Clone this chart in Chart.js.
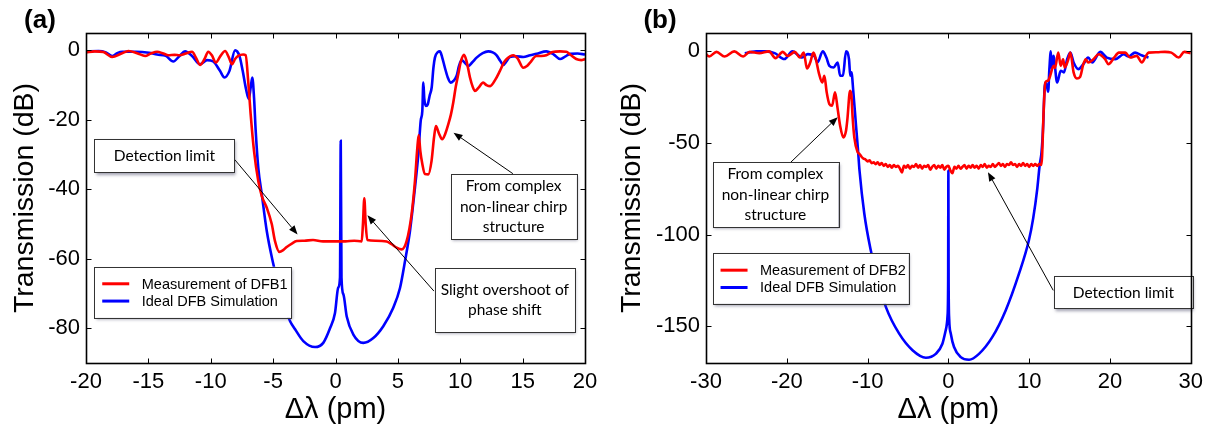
<!DOCTYPE html>
<html>
<head>
<meta charset="utf-8">
<script src="https://cdn.jsdelivr.net/npm/chart.js@4.4.1/dist/chart.umd.min.js"></script>
<style>
  html, body { margin: 0; padding: 0; background: #fff; }
  body { width: 1209px; height: 427px; position: relative; overflow: hidden; }
  .panel { position: absolute; top: 0; height: 427px; }
  #panelA { left: 0; width: 604px; }
  #panelB { left: 604px; width: 605px; }
</style>
</head>
<body>
<div class="panel" id="panelA"><canvas id="chartA" width="604" height="427"></canvas></div>
<div class="panel" id="panelB"><canvas id="chartB" width="605" height="427"></canvas></div>
<script>
'use strict';

// ---- panel (a): DFB1 ----
const measA_x = [-20, -19.3, -18.6, -17.9, -17.2, -16.6, -15.9, -15.26, -14.8, -14.3, -13.8, -13.4, -12.9, -12.5, -12.0,
  -11.5, -11.2, -10.86, -10.5, -10.2, -9.9, -9.6, -9.2, -8.85, -8.55, -8.3, -8.05, -7.8, -7.4, -7.2, -7.0, -6.8, -6.53,
  -6.19, -5.9, -5.51, -5.11, -4.85, -4.5, -4.2, -3.91, -3.5, -3.11, -2.5, -1.8, -1.0, 0, 0.8, 1.5, 2.1, 2.2, 2.31, 2.42,
  2.55, 3.2, 4.1, 4.5, 4.9, 5.3, 5.7, 6.1, 6.37, 6.55, 6.67, 6.8, 6.95, 7.17, 7.44, 7.7, 7.9, 8.05, 8.3, 8.55, 8.8, 9.04,
  9.25, 9.44, 9.64, 9.84, 10.05, 10.3, 10.5, 10.78, 11.0, 11.18, 11.45, 11.84, 12.1, 12.4, 12.8, 13.18, 13.5, 13.72,
  14.25, 14.6, 15.05, 15.35, 15.6, 16.1, 16.5, 16.9, 17.4, 18.0, 18.5, 18.8, 19.3, 19.7, 20];
const measA_y = [-0.6, -0.3, -0.5, -1.9, -1.0, -0.2, -0.8, -1.6, -0.9, -0.4, -0.9, -1.4, -1.3, -1.4, -0.9,
  -0.4, -2.0, -4.2, -2.5, -0.4, -1.5, -3.5, -1.5, -0.2, -2.0, -4.0, -2.5, -1.6, -1.2, -1.4, -8.8, -18.4, -29,
  -37.6, -42, -45.3, -50, -54.9, -58, -57.5, -56.6, -55.6, -54.9, -54.8, -54.6, -55, -55, -55, -54.8, -55, -50, -42.6, -50,
  -54.6, -54.8, -55, -55.8, -56.8, -57.3, -54.9, -47.2, -37.6, -28.5, -24.4, -29, -32.5, -35.6, -35.7, -31.8, -25, -21.8, -24, -25.6, -24, -21.3,
  -18.5, -15, -10.5, -6.9, -3.2, -1.3, -3, -7.8, -10.5, -11.7, -10.8, -9.3, -10, -10.3, -8.5, -5.9, -3.5, -2.5,
  -1.4, -2.3, -5, -4.5, -3.5, -1.6, -1.6, -1.4, -0.5, -0.3, -0.4, -1.2, -2.5, -2.8, -2.5];

const simA_x = [-20, -19.0, -18.4, -17.9, -17.5, -17.1, -16.0, -14.95, -14.3, -13.6, -13.0, -12.5, -12.06, -11.5, -10.86,
  -10.3, -9.8, -9.26, -8.9, -8.5, -8.05, -7.7, -7.44, -7.17, -6.95, -6.8, -6.67, -6.53, -6.4, -6.19, -5.91, -5.51, -4.98,
  -4.4, -3.64, -3.24, -2.58, -1.64, -0.98, -0.44, -0.04, 0.22, 0.36, 0.42, 0.48, 0.63, 0.9, 1.43, 2.23, 3.03, 3.83, 4.63,
  5.17, 5.57, 5.97, 6.37, 6.64, 6.83, 6.96, 7.04, 7.12, 7.25, 7.4, 7.55, 7.71, 7.85, 7.97, 8.2, 8.37, 8.55, 8.77, 9.0,
  9.23, 9.45, 9.71, 9.9, 10.11, 10.35, 10.64, 10.95, 11.31, 11.8, 12.24, 12.6, 12.9, 13.2, 13.45, 13.7, 13.98, 14.5,
  15.05, 15.6, 16.12, 16.9, 17.5, 18.0, 18.4, 18.8, 19.4, 20];
const simA_y = [-0.3, -0.2, -0.6, -1.6, -0.8, -0.4, -0.4, -0.7, -1.2, -1.6, -3.2, -1.6, -0.3, -1.6, -4.0,
  -2.8, -3.2, -5.9, -7.8, -5.9, 0, -1.6, -5.9, -11.2, -14, -10.7, -7.8, -13.6, -23, -33.8, -41.4, -52, -61.6,
  -70.5, -78, -80.3, -83.7, -85.4, -84.2, -80, -75.6, -68.3, -65.4, -26, -65.4, -70.2, -76.6, -81.8, -84.2, -82.8, -79.4, -74.1,
  -68.4, -60.7, -52, -39.5, -29.9, -20.3, -17.4, -9.3, -14, -16, -15.5, -13, -10.7, -5, -2.1, -0.5, -0.3, -2, -5, -7.8,
  -9.3, -8.8, -7.3, -4.5, -2.8, -3.5, -4.5, -3.5, -2.1, -0.8, -0.3, -0.6, -1.4, -3, -4.2, -3.2, -1.9, -1.7,
  -1.9, -1.4, -1, -0.3, -1.2, -2.5, -1.8, -1, -0.9, -1.2];

const X_TICKS_A = [-20, -15, -10, -5, 0, 5, 10, 15, 20];
const Y_TICKS_A = [-80, -60, -40, -20, 0];

// ---- panel (b): DFB2 ----
const measB_x = [-30, -29.6, -28.7, -27.7, -26.5, -25.4, -24.6, -23.4, -22.2, -21.4, -20.5, -19.9, -19.0, -18.4, -17.9,
  -17.5, -17.1, -16.7, -16.4, -16.05, -15.6, -15.35, -15.06, -14.73, -14.4, -14.03, -13.7, -13.4, -13.0, -12.67, -12.5,
  -12.17, -12.0, -11.85, -11.64, -11.23,
  -11, -10.75, -10.5, -10.25, -10, -9.75, -9.5, -9.25, -9, -8.75, -8.5, -8.25, -8, -7.75, -7.5, -7.25, -7, -6.75, -6.5,
  -6.25, -6, -5.75, -5.5, -5.25, -5, -4.75, -4.5, -4.25, -4, -3.75, -3.5, -3.25, -3, -2.75, -2.5, -2.25, -2, -1.75, -1.5,
  -1.25, -1, -0.75, -0.5, -0.25, 0, 0.25, 0.5, 0.75, 1, 1.25, 1.5, 1.75, 2, 2.25, 2.5, 2.75, 3, 3.25, 3.5, 3.75, 4, 4.25,
  4.5, 4.75, 5, 5.25, 5.5, 5.75, 6, 6.25, 6.5, 6.75, 7, 7.25, 7.5, 7.75, 8, 8.25, 8.5, 8.75, 9, 9.25, 9.5, 9.75, 10,
  10.25, 10.5, 10.75, 11, 11.25, 11.5,
  11.6, 11.8, 12.0, 12.35, 12.6, 13.02, 13.2, 13.6, 13.9, 14.2, 14.4, 14.8, 15.1, 15.5, 15.9, 16.3, 16.7, 17.0, 17.3,
  17.95, 18.6, 19.4, 19.8, 20.5, 21.1, 21.9, 22.5, 23.3, 23.95, 24.4, 24.77, 25.8, 26.8, 27.6, 28.5, 29.2, 30];
const measB_y = [-1.5, -2.8, -0.3, -2.8, 0, -2.8, -0.3, -1, 0, -3.7, -0.3, -2.5, -0.3, -3.4, -0.7,
  -9.4, -6.1, -0.7, -4.3, -11.5, -17, -13.3, -22.4, -28.8, -29.7, -22.4, -31.5, -40.6, -47, -43.3, -37,
  -21.5, -24.2, -36, -47, -55,
  -56, -57.5, -58.5, -59, -60, -59.5, -61, -60.5, -61.5, -60.5, -62, -61, -62.5, -61.5, -63, -62, -63.5, -62, -63,
  -62.5, -64, -66, -62.5, -63.5, -62, -64, -62.5, -63, -61.5, -63.5, -62, -64, -62.5, -63, -62, -64.5, -63, -62, -64,
  -62.5, -63.5, -62, -64.5, -63, -62.5, -65, -66.5, -63, -64, -62.5, -64, -63, -62, -64, -62.5, -63.5, -62, -63.5, -62.5, -64, -62, -63,
  -61.5, -63.5, -62.5, -63, -61.5, -63, -62, -61, -62.5, -61.5, -63, -61.5, -62, -60.5, -62, -61.5, -63, -61.5, -62.5, -61, -62.5, -61.5, -63,
  -61.5, -62.5, -61.5, -62.5, -61.5, -62,
  -57, -31.5, -17, -16, -13.3, -7.9, -9, -0.6, -7.9, -4.3, -8.8, -5, -0.7, -11.5, -14.8, -14, -7, -4.3, -6.1,
  -4.3, -1.6, -4.3, -7, -3.5, -0.7, -0.7, -3.4, -2.5, -6.1, -3, -0.7, -0.5, -0.3, -0.7, -3.4, -0.3, -1];

const simB_x = [-25.2, -24.5, -23.8, -22.6, -21.5, -20.3, -19.3, -18.1, -17.4, -16.6, -16.2, -15.55, -15.1, -14.73, -14.2,
  -13.7, -13.4, -13.05, -12.67, -12.3, -12.14, -12.0, -11.76, -11.43, -11.2, -11.0, -10.4, -9.6, -8.9, -8.3, -7.73,
  -6.09, -4.44, -2.79, -1.56, -0.74, -0.32, -0.1, -0.03, 0, 0.03, 0.1, 0.3, 0.7, 1.53, 2.56, 3.79, 5.43, 7.09, 8.73,
  9.96, 10.5, 11.0, 11.3, 11.53, 11.73, 11.9, 12.0, 12.2, 12.35, 12.5, 12.68, 12.8, 13.0, 13.46, 13.9, 14.3, 14.7, 15.1,
  15.5, 16.1, 16.7, 17.3, 17.8, 18.8, 19.6, 20.66, 21.7, 22.3, 23.1, 23.9, 24.77];
const simB_y = [-1, -0.5, 0, 0, -1, -4.2, 0, -3.4, -1.5, -2.5, -6.1, 0, -3.4, -7.9, -8.8,
  -6.1, -13.3, -13.3, 0, -4.3, -13.3, -11.5, -22.4, -40.6, -53, -65, -88.7, -108.7, -122, -131, -139.5,
  -154, -163, -167.1, -165, -159.5, -152, -144, -125, -65, -125, -146, -154, -161.3, -166.8, -168.2, -165, -155.9, -141.3, -121.4,
  -103.2, -91, -75, -62, -55, -40.6, -20.6, -17, -19, -22, -9.7, 0, -9.7, -2.5, -17, -10.6, -11.5, -4.3, -0.7,
  -6.1, -9.7, -7, -3.4, -6.1, -0.3, -3.4, -4.3, -1.6, -2.8, -0.7, -2.1, -3.4];

const X_TICKS_B = [-30, -20, -10, 0, 10, 20, 30];
const Y_TICKS_B = [-150, -100, -50, 0];

const RED = 'rgb(255,0,0)';
const BLUE = 'rgb(0,0,255)';
const FONT = 'Arial, "Liberation Sans", sans-serif';
const NOTE_FONT = 'Lato, "Open Sans", sans-serif';

function pts(xs, ys) {
  return xs.map((x, i) => ({ x, y: ys[i] }));
}

function line(label, xs, ys, color) {
  return {
    label, data: pts(xs, ys), borderColor: color, backgroundColor: color,
    borderWidth: 2.6, pointRadius: 0, fill: false, cubicInterpolationMode: 'monotone',
  };
}

function axisX(min, max, ticks) {
  return {
    type: 'linear', min, max,
    afterBuildTicks: s => { s.ticks = ticks.map(v => ({ value: v })); },
    afterFit: s => { s.height = 64; },
    grid: { display: false, drawTicks: false },
    border: { display: false },
    ticks: {
      color: '#000', font: { family: FONT, size: 22 }, padding: 6,
      maxRotation: 0, autoSkip: false, callback: v => String(v),
    },
    title: {
      display: true, text: 'Δλ (pm)', color: '#000',
      font: { family: FONT, size: 29 }, padding: { top: 0, bottom: 0 },
    },
  };
}

function axisY(min, max, ticks, width, titlePad) {
  return {
    type: 'linear', min, max,
    afterBuildTicks: s => { s.ticks = ticks.map(v => ({ value: v })); },
    afterFit: s => { s.width = width; },
    grid: { display: false, drawTicks: false },
    border: { display: false },
    ticks: { color: '#000', font: { family: FONT, size: 22 }, padding: 6, callback: v => String(v) },
    title: {
      display: true, text: 'Transmission (dB)', color: '#000',
      font: { family: FONT, size: 28.5 }, padding: { top: titlePad, bottom: 0 },
    },
  };
}

function drawArrow(ctx, x0, y0, x1, y1) {
  const ang = Math.atan2(y1 - y0, x1 - x0);
  const len = 9, half = 3.5;
  const bx = x1 - len * Math.cos(ang), by = y1 - len * Math.sin(ang);
  ctx.beginPath();
  ctx.moveTo(x0, y0);
  ctx.lineTo(bx, by);
  ctx.stroke();
  ctx.beginPath();
  ctx.moveTo(x1, y1);
  ctx.lineTo(bx + half * Math.sin(ang), by - half * Math.cos(ang));
  ctx.lineTo(bx - half * Math.sin(ang), by + half * Math.cos(ang));
  ctx.closePath();
  ctx.fill();
}

function framedBox(ctx, l, t, r, b) {
  ctx.save();
  ctx.shadowColor = 'rgba(80,80,110,0.55)';
  ctx.shadowBlur = 3;
  ctx.shadowOffsetX = 1.5;
  ctx.shadowOffsetY = 2;
  ctx.fillStyle = '#fff';
  ctx.fillRect(l, t, r - l, b - t);
  ctx.restore();
  ctx.strokeStyle = '#333';
  ctx.lineWidth = 1;
  ctx.strokeRect(Math.round(l) + 0.5, Math.round(t) + 0.5, Math.round(r - l), Math.round(b - t));
}

const notesPlugin = {
  id: 'notes',
  afterDatasetsDraw(chart, args, opts) {
    const { ctx } = chart;
    const sx = chart.scales.x, sy = chart.scales.y;
    ctx.save();
    ctx.strokeStyle = '#000';
    ctx.fillStyle = '#000';
    ctx.lineWidth = 1;
    for (const a of opts.arrows) {
      drawArrow(ctx, sx.getPixelForValue(a.from[0]), sy.getPixelForValue(a.from[1]),
        sx.getPixelForValue(a.to[0]), sy.getPixelForValue(a.to[1]));
    }
    for (const b of opts.boxes) {
      const l = sx.getPixelForValue(b.x0), r = sx.getPixelForValue(b.x1);
      const t = sy.getPixelForValue(b.y0), btm = sy.getPixelForValue(b.y1);
      framedBox(ctx, l, t, r, btm);
      ctx.fillStyle = '#000';
      ctx.font = '15.5px ' + NOTE_FONT;
      ctx.textAlign = 'center';
      ctx.textBaseline = 'middle';
      const cx = (l + r) / 2, cy = (t + btm) / 2;
      const n = b.lines.length;
      b.lines.forEach((s, i) => ctx.fillText(s, cx, cy + (i - (n - 1) / 2) * 20.5));
    }
    // legend
    const lg = opts.legend;
    const l = sx.getPixelForValue(lg.x0), r = sx.getPixelForValue(lg.x1);
    const t = sy.getPixelForValue(lg.y0), btm = sy.getPixelForValue(lg.y1);
    framedBox(ctx, l, t, r, btm);
    ctx.font = '14.5px ' + FONT;
    ctx.textAlign = 'left';
    ctx.textBaseline = 'middle';
    chart.data.datasets.forEach((ds, i) => {
      const yy = t + 17 + i * 17.3;
      ctx.strokeStyle = ds.borderColor;
      ctx.lineWidth = 3;
      ctx.beginPath();
      ctx.moveTo(l + 8, yy);
      ctx.lineTo(l + 35, yy);
      ctx.stroke();
      ctx.fillStyle = '#000';
      ctx.fillText(ds.label, l + 47.5, yy + 1);
    });
    ctx.restore();
  },
  afterDraw(chart, args, opts) {
    const { ctx, chartArea: ca } = chart;
    const sx = chart.scales.x, sy = chart.scales.y;
    ctx.save();
    ctx.strokeStyle = '#000';
    ctx.lineWidth = 1.6;
    const L = Math.round(ca.left) + 0.5, R = Math.round(ca.right) + 0.5;
    const T = Math.round(ca.top) + 0.5, B = Math.round(ca.bottom) + 0.5;
    ctx.strokeRect(L, T, R - L, B - T);
    ctx.lineWidth = 1;
    ctx.beginPath();
    for (const tk of sx.ticks) {
      const px = Math.round(sx.getPixelForValue(tk.value)) + 0.5;
      ctx.moveTo(px, B); ctx.lineTo(px, B - 5);
      ctx.moveTo(px, T); ctx.lineTo(px, T + 5);
    }
    for (const tk of sy.ticks) {
      const py = Math.round(sy.getPixelForValue(tk.value)) + 0.5;
      ctx.moveTo(L, py); ctx.lineTo(L + 5, py);
      ctx.moveTo(R, py); ctx.lineTo(R - 5, py);
    }
    ctx.stroke();
    ctx.fillStyle = '#000';
    ctx.font = 'bold 26px ' + FONT;
    ctx.textAlign = 'center';
    ctx.textBaseline = 'middle';
    ctx.fillText(opts.tag, opts.tagX, 21);
    ctx.restore();
  },
};

function makeChart(id, cfg) {
  return new Chart(document.getElementById(id), {
    type: 'line',
    data: { datasets: cfg.datasets },
    options: {
      responsive: false,
      animation: false,
      layout: { padding: { left: 0, top: 33, right: cfg.padRight, bottom: 0 } },
      scales: { x: cfg.x, y: cfg.y },
      plugins: {
        legend: { display: false },
        tooltip: { enabled: false },
        notes: cfg.notes,
      },
    },
    plugins: [notesPlugin],
  });
}

makeChart('chartA', {
  datasets: [
    line('Measurement of DFB1', measA_x, measA_y, RED),
    line('Ideal DFB Simulation', simA_x, simA_y, BLUE),
  ],
  x: axisX(-20, 20, X_TICKS_A),
  y: axisY(-90, 5, Y_TICKS_A, 86, 8),
  padRight: 19,
  notes: {
    tag: '(a)', tagX: 40,
    boxes: [
      { x0: -19.34, x1: -8.1, y0: -25.6, y1: -35.2, lines: ['Detection limit'] },
      { x0: 9.22, x1: 19.34, y0: -35.7, y1: -54.4, lines: ['From complex', 'non-linear chirp', 'structure'] },
      { x0: 7.95, x1: 19.19, y0: -62.6, y1: -81.1, lines: ['Slight overshoot of', 'phase shift'] },
    ],
    arrows: [
      { from: [-8.1, -31.35], to: [-3.04, -53.0] },
      { from: [14.22, -35.5], to: [9.46, -23.7] },
      { from: [7.89, -69.3], to: [2.56, -47.5] },
    ],
    legend: { x0: -19.34, x1: -3.51, y0: -62.3, y1: -77.0 },
  },
});

makeChart('chartB', {
  datasets: [
    line('Measurement of DFB2', measB_x, measB_y, RED),
    line('Ideal DFB Simulation', simB_x, simB_y, BLUE),
  ],
  x: axisX(-30, 30, X_TICKS_B),
  y: axisY(-170, 10, Y_TICKS_B, 102, 11),
  padRight: 16,
  notes: {
    tag: '(b)', tagX: 56,
    boxes: [
      { x0: -29.19, x1: -13.64, y0: -60.6, y1: -96, lines: ['From complex', 'non-linear chirp', 'structure'] },
      { x0: 13.07, x1: 30.26, y0: -122.7, y1: -140.4, lines: ['Detection limit'] },
    ],
    arrows: [
      { from: [-19.53, -60.6], to: [-13.7, -35.9] },
      { from: [12.98, -130.4], to: [4.9, -65.9] },
    ],
    legend: { x0: -29.19, x1: -4.93, y0: -110.1, y1: -137.7 },
  },
});
</script>
</body>
</html>
